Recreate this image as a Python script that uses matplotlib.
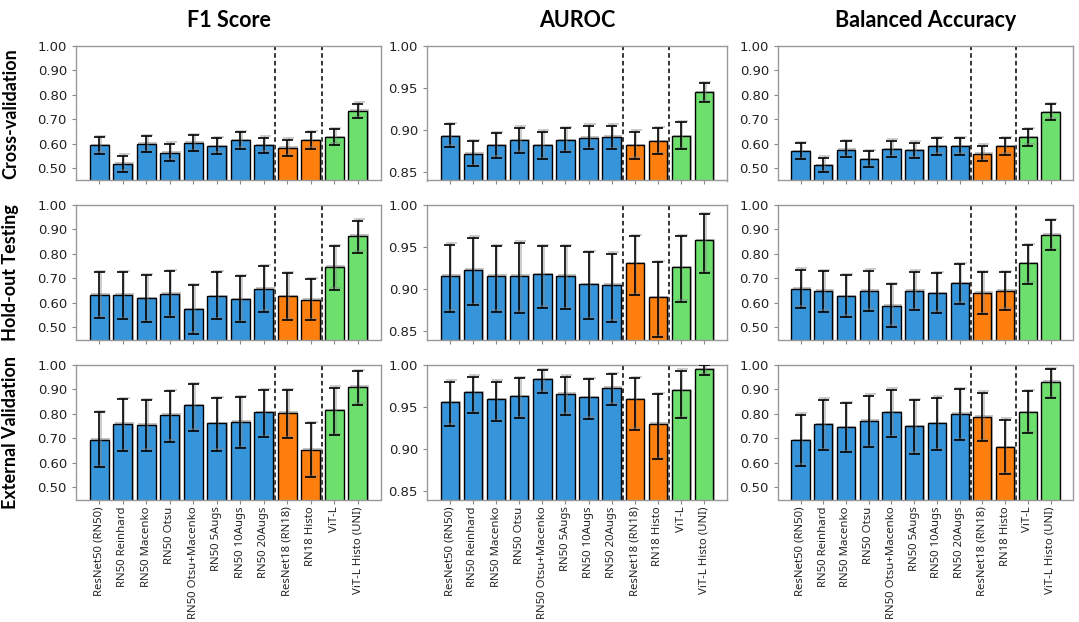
import matplotlib
matplotlib.use("Agg")
import matplotlib.pyplot as plt
import matplotlib.patheffects as pe
import numpy as np

models = ["ResNet50 (RN50)", "RN50 Reinhard", "RN50 Macenko", "RN50 Otsu",
          "RN50 Otsu+Macenko", "RN50 5Augs", "RN50 10Augs", "RN50 20Augs",
          "ResNet18 (RN18)", "RN18 Histo", "ViT-L", "ViT-L Histo (UNI)"]
colors = ["#3594da"] * 8 + ["#ff7f0e"] * 2 + ["#6ddf6d"] * 2

metrics = ["F1 Score", "AUROC", "Balanced Accuracy"]
settings = ["Cross-validation", "Hold-out Testing", "External Validation"]

# cross-validation
f1_cv = [0.594, 0.519, 0.600, 0.564, 0.605, 0.591, 0.614, 0.594, 0.584, 0.614, 0.628, 0.736]
f1_cv_lo = [0.560, 0.486, 0.565, 0.531, 0.570, 0.560, 0.580, 0.564, 0.550, 0.580, 0.597, 0.706]
f1_cv_hi = [0.628, 0.552, 0.632, 0.600, 0.636, 0.624, 0.648, 0.625, 0.617, 0.648, 0.659, 0.764]
auc_cv = [0.893, 0.872, 0.882, 0.888, 0.882, 0.888, 0.891, 0.892, 0.882, 0.887, 0.893, 0.945]
auc_cv_lo = [0.880, 0.857, 0.867, 0.873, 0.865, 0.874, 0.877, 0.877, 0.866, 0.871, 0.877, 0.933]
auc_cv_hi = [0.907, 0.887, 0.896, 0.903, 0.898, 0.902, 0.905, 0.905, 0.898, 0.902, 0.909, 0.956]
ba_cv = [0.571, 0.513, 0.576, 0.538, 0.579, 0.573, 0.591, 0.591, 0.560, 0.591, 0.626, 0.730]
ba_cv_lo = [0.538, 0.483, 0.545, 0.505, 0.546, 0.541, 0.556, 0.556, 0.529, 0.556, 0.593, 0.698]
ba_cv_hi = [0.602, 0.543, 0.610, 0.571, 0.613, 0.605, 0.623, 0.623, 0.593, 0.623, 0.660, 0.762]

# hold-out testing
f1_ho = [0.633, 0.633, 0.619, 0.637, 0.575, 0.628, 0.615, 0.657, 0.628, 0.612, 0.747, 0.874]
f1_ho_lo = [0.536, 0.533, 0.520, 0.542, 0.474, 0.533, 0.522, 0.563, 0.529, 0.529, 0.654, 0.805]
f1_ho_hi = [0.725, 0.725, 0.713, 0.730, 0.673, 0.724, 0.709, 0.750, 0.721, 0.697, 0.832, 0.936]
auc_ho = [0.916, 0.923, 0.916, 0.916, 0.918, 0.916, 0.906, 0.905, 0.931, 0.890, 0.926, 0.958]
auc_ho_lo = [0.873, 0.881, 0.873, 0.872, 0.878, 0.876, 0.864, 0.861, 0.893, 0.843, 0.885, 0.919]
auc_ho_hi = [0.953, 0.961, 0.951, 0.955, 0.951, 0.951, 0.944, 0.942, 0.963, 0.932, 0.963, 0.989]
ba_ho = [0.658, 0.649, 0.628, 0.649, 0.588, 0.649, 0.639, 0.679, 0.641, 0.649, 0.761, 0.879]
ba_ho_lo = [0.580, 0.564, 0.543, 0.567, 0.503, 0.570, 0.559, 0.596, 0.553, 0.572, 0.678, 0.814]
ba_ho_hi = [0.736, 0.730, 0.714, 0.732, 0.676, 0.728, 0.720, 0.759, 0.724, 0.724, 0.836, 0.938]

# external validation
f1_ext = [0.695, 0.760, 0.756, 0.797, 0.835, 0.763, 0.768, 0.808, 0.805, 0.654, 0.815, 0.911]
f1_ext_lo = [0.583, 0.647, 0.649, 0.687, 0.732, 0.649, 0.659, 0.706, 0.700, 0.540, 0.713, 0.837]
f1_ext_hi = [0.808, 0.861, 0.856, 0.894, 0.922, 0.865, 0.869, 0.898, 0.897, 0.763, 0.907, 0.974]
auc_ext = [0.956, 0.968, 0.959, 0.963, 0.983, 0.966, 0.962, 0.973, 0.959, 0.930, 0.970, 0.995]
auc_ext_lo = [0.928, 0.943, 0.933, 0.937, 0.967, 0.941, 0.936, 0.953, 0.923, 0.888, 0.937, 0.988]
auc_ext_hi = [0.980, 0.986, 0.980, 0.984, 0.994, 0.986, 0.983, 0.989, 0.984, 0.965, 0.993, 1.000]
ba_ext = [0.692, 0.757, 0.745, 0.773, 0.808, 0.749, 0.761, 0.801, 0.789, 0.665, 0.808, 0.932]
ba_ext_lo = [0.588, 0.651, 0.643, 0.665, 0.706, 0.638, 0.651, 0.693, 0.689, 0.553, 0.722, 0.865]
ba_ext_hi = [0.797, 0.858, 0.843, 0.875, 0.899, 0.856, 0.866, 0.900, 0.886, 0.777, 0.892, 0.983]

grid = [
    [(f1_cv, f1_cv_lo, f1_cv_hi), (auc_cv, auc_cv_lo, auc_cv_hi), (ba_cv, ba_cv_lo, ba_cv_hi)],
    [(f1_ho, f1_ho_lo, f1_ho_hi), (auc_ho, auc_ho_lo, auc_ho_hi), (ba_ho, ba_ho_lo, ba_ho_hi)],
    [(f1_ext, f1_ext_lo, f1_ext_hi), (auc_ext, auc_ext_lo, auc_ext_hi), (ba_ext, ba_ext_lo, ba_ext_hi)],
]

W, H = 1079, 622
fig = plt.figure(figsize=(W / 100, H / 100), dpi=100)

col_left = [76, 427, 778]
col_w = [305, 300, 295]
row_top = [46, 205, 365]
row_h = 134.5

bar_fx = [pe.SimplePatchShadow(offset=(1, 1), shadow_rgbFace="#888888", alpha=0.5), pe.Normal()]
err_fx = [pe.SimpleLineShadow(offset=(1, 1), shadow_color="#888888", alpha=0.5), pe.Normal()]

x = np.arange(len(models))
for r in range(3):
    for c in range(3):
        ax = fig.add_axes([col_left[c] / W, 1 - (row_top[r] + row_h) / H,
                           col_w[c] / W, row_h / H])
        vals, lo, hi = grid[r][c]
        vals = np.array(vals)
        yerr = [vals - np.array(lo), np.array(hi) - vals]
        bars = ax.bar(x, vals, width=0.8, color=colors, edgecolor="black", linewidth=1.0, zorder=2)
        for b in bars:
            b.set_path_effects(bar_fx)
        eb = ax.errorbar(x, vals, yerr=yerr, fmt="none", ecolor="black", elinewidth=1.2,
                         capsize=4, capthick=1.2, zorder=3)
        for ln in eb.lines[1] + eb.lines[2]:
            ln.set_path_effects(err_fx)
        ax.axvline(7.5, color="black", linestyle="--", linewidth=1.1, dashes=(3, 2), zorder=1)
        ax.axvline(9.5, color="black", linestyle="--", linewidth=1.1, dashes=(3, 2), zorder=1)
        if c == 1:
            ax.set_ylim(0.84, 1.0)
            ax.set_yticks([0.85, 0.90, 0.95, 1.00])
        else:
            ax.set_ylim(0.45, 1.0)
            ax.set_yticks([0.5, 0.6, 0.7, 0.8, 0.9, 1.0])
        ax.set_yticklabels([f"{t:.2f}" for t in ax.get_yticks()], fontsize=9.5)
        ax.set_xlim(-0.99, 11.99)
        ax.set_xticks(x)
        if r == 2:
            ax.set_xticklabels(models, rotation=90, fontsize=8.2, family="Noto Sans")
        else:
            ax.set_xticklabels([])
        ax.tick_params(axis="both", colors="#888888", length=3, width=0.8, labelcolor="#222222")
        ax.tick_params(axis="x", pad=2)
        for s in ax.spines.values():
            s.set_color("#999999")
            s.set_linewidth(1.0)
        if r == 0:
            ax.set_title(metrics[c], fontsize=15.5, fontweight="bold", family="Lato", pad=14)
        if c == 0:
            ax.text(-0.215, 0.5, settings[r], transform=ax.transAxes, rotation=90,
                    ha="center", va="center", fontsize=13, fontweight="bold", family="Lato")

fig.savefig("out.png", dpi=100)
